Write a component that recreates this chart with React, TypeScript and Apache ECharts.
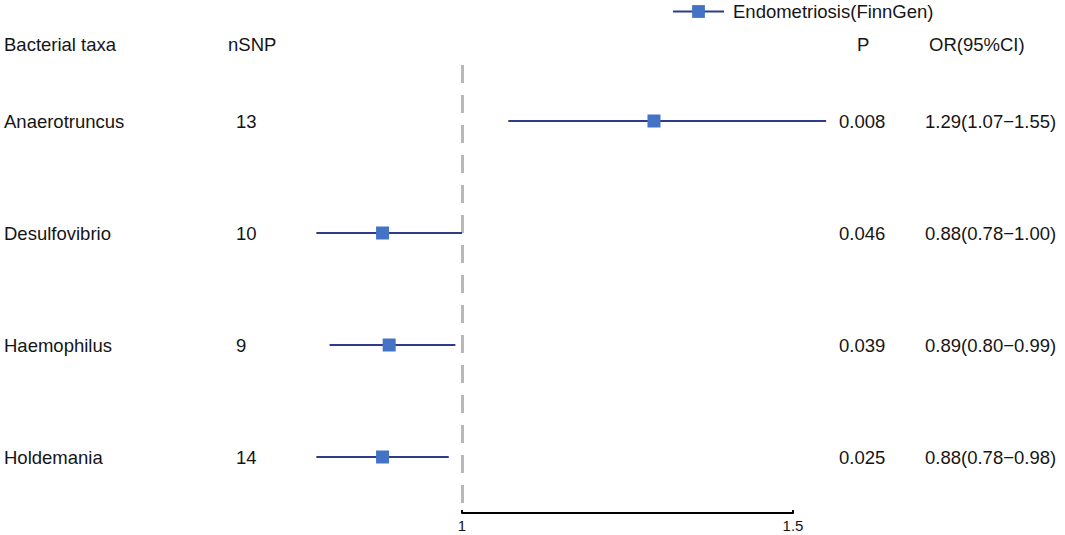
import React, { useEffect, useRef } from "react";
import * as echarts from "echarts";

// ---- data ----
const taxa = ["Anaerotruncus", "Desulfovibrio", "Haemophilus", "Holdemania"];
const nSNP = [13, 10, 9, 14];
const pValues = ["0.008", "0.046", "0.039", "0.025"];
const orValues = [1.29, 0.88, 0.89, 0.88];
const lowerCI = [1.07, 0.78, 0.8, 0.78];
const upperCI = [1.55, 1.0, 0.99, 0.98];
const headerLabels = ["Bacterial taxa", "nSNP", "P", "OR(95%CI)"];
const seriesName = "Endometriosis(FinnGen)";
const axisMin = 1;
const axisMax = 1.5;
const axisInterval = 0.5;

const orLabels = orValues.map(
  (v, i) => `${v.toFixed(2)}(${lowerCI[i].toFixed(2)}\u2212${upperCI[i].toFixed(2)})`
);

// ---- layout ----
const W = 1065;
const H = 535;
const X_ONE = 462;
const PX_PER_UNIT = 662;
const XMIN = 0.76;
const XMAX = 1.56;
const GRID_TOP = 65;
const GRID_H = 448;
const gridLeft = X_ONE - (1 - XMIN) * PX_PER_UNIT;
const gridWidth = (XMAX - XMIN) * PX_PER_UNIT;
const gridRightEdge = gridLeft + gridWidth;
const FONT = "'Liberation Sans', Arial, sans-serif";
const FS = 18.5;
const TXT = "#151515";
const LINE_C = "#2e3b8c";
const MARK_C = "#4472c4";

const headerX = [4, 228, 857, 929];
const HEADER_Y = 44;

export default function App() {
  const ref = useRef<HTMLDivElement>(null);
  useEffect(() => {
    if (!ref.current) return;
    const chart = echarts.init(ref.current, undefined, { renderer: "svg" });

    const series: any[] = taxa.map((t, i) => ({
      type: "line",
      name: seriesName,
      xAxisIndex: 0,
      yAxisIndex: 0,
      symbol: "rect",
      symbolSize: 13,
      showSymbol: true,
      lineStyle: { color: LINE_C, width: 2 },
      itemStyle: { color: MARK_C },
      emphasis: { disabled: true },
      data: [
        { value: [lowerCI[i], t], symbol: "none", symbolSize: 0 },
        { value: [orValues[i], t] },
        { value: [upperCI[i], t], symbol: "none", symbolSize: 0 },
      ],
      z: 5,
      markLine:
        i === 0
          ? {
              silent: true,
              symbol: "none",
              label: { show: false },
              lineStyle: { color: "#b8b8b8", width: 3, type: [18, 12] },
              data: [{ xAxis: 1 }],
              z: 1,
            }
          : undefined,
    }));

    chart.setOption({
      animation: false,
      legend: {
        data: [seriesName],
        left: 672,
        top: 2,
        padding: 0,
        itemWidth: 51,
        itemHeight: 16,
        textStyle: { fontFamily: FONT, fontSize: FS, color: TXT, padding: [0, 0, 0, 4] },
      },
      graphic: headerLabels.map((h, i) => ({
        type: "text",
        x: headerX[i],
        y: HEADER_Y,
        style: {
          text: h,
          fontFamily: FONT,
          fontSize: FS,
          fill: TXT,
          verticalAlign: "middle",
          align: "left",
        },
      })),
      grid: [
        { left: gridLeft, width: gridWidth, top: GRID_TOP, height: GRID_H, containLabel: false },
        { left: X_ONE, width: (axisMax - axisMin) * PX_PER_UNIT, top: GRID_TOP, height: GRID_H, containLabel: false },
      ],
      xAxis: [
        {
          type: "value",
          gridIndex: 0,
          min: XMIN,
          max: XMAX,
          show: false,
        },
        {
          type: "value",
          gridIndex: 1,
          min: axisMin,
          max: axisMax,
          interval: axisInterval,
          position: "bottom",
          splitLine: { show: false },
          axisLine: { show: true, lineStyle: { color: "#000", width: 2 } },
          axisTick: { show: true, inside: true, length: 3, lineStyle: { color: "#000", width: 2 } },
          axisLabel: {
            fontFamily: FONT,
            fontSize: 15,
            color: TXT,
            margin: 5,
            formatter: (v: number) => String(v),
          },
        },
      ],
      yAxis: [
        {
          type: "category",
          gridIndex: 0,
          data: taxa,
          inverse: true,
          position: "left",
          axisLine: { show: false },
          axisTick: { show: false },
          splitLine: { show: false },
          axisLabel: {
            align: "left",
            margin: gridLeft - 4,
            fontFamily: FONT,
            fontSize: FS,
            color: TXT,
          },
        },
        {
          type: "category",
          gridIndex: 0,
          data: nSNP.map(String),
          inverse: true,
          position: "left",
          axisLine: { show: false },
          axisTick: { show: false },
          splitLine: { show: false },
          axisLabel: {
            align: "left",
            margin: gridLeft - 236,
            fontFamily: FONT,
            fontSize: FS,
            color: TXT,
          },
        },
        {
          type: "category",
          gridIndex: 0,
          data: pValues,
          inverse: true,
          position: "right",
          axisLine: { show: false },
          axisTick: { show: false },
          splitLine: { show: false },
          axisLabel: {
            align: "left",
            margin: 839 - gridRightEdge,
            fontFamily: FONT,
            fontSize: FS,
            color: TXT,
          },
        },
        {
          type: "category",
          gridIndex: 0,
          data: orLabels,
          inverse: true,
          position: "right",
          axisLine: { show: false },
          axisTick: { show: false },
          splitLine: { show: false },
          axisLabel: {
            align: "left",
            margin: 925 - gridRightEdge,
            fontFamily: FONT,
            fontSize: FS,
            color: TXT,
          },
        },
        {
          type: "value",
          gridIndex: 1,
          show: false,
        },
      ],
      series,
    });
    return () => chart.dispose();
  }, []);
  return (
    <div
      ref={ref}
      style={{ position: "fixed", left: 0, top: 0, width: W, height: H, background: "#fff" }}
    />
  );
}
